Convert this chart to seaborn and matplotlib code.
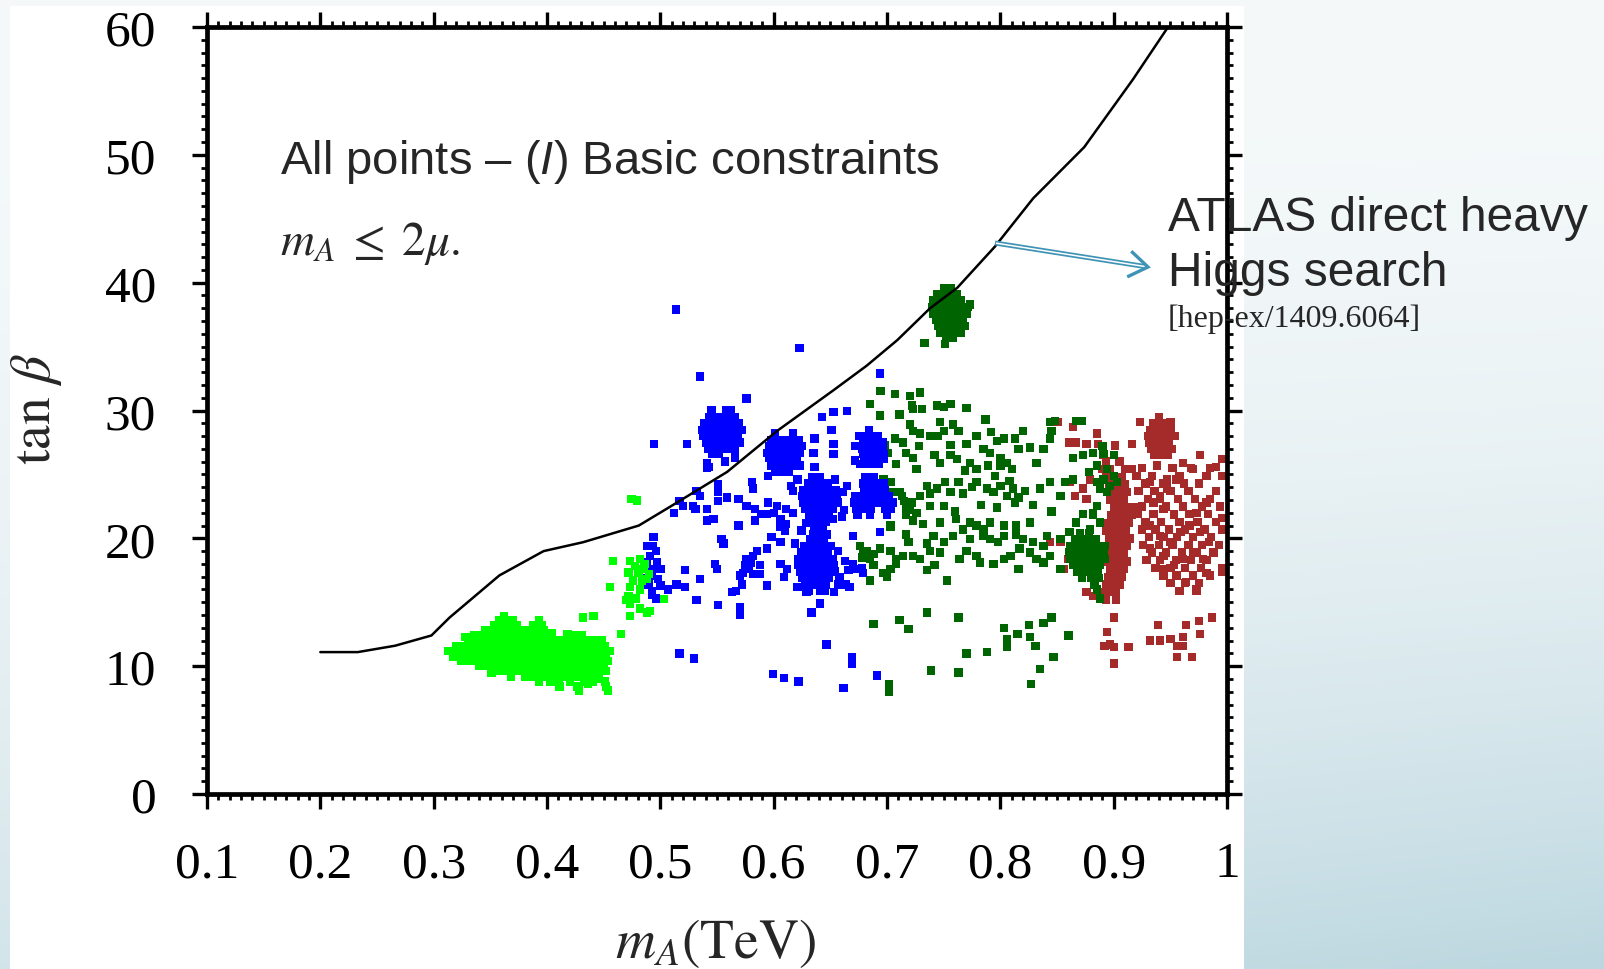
import numpy as np
import pandas as pd
import matplotlib
matplotlib.use("Agg")
import matplotlib.pyplot as plt
from matplotlib.patches import Rectangle
from matplotlib.ticker import MultipleLocator, FixedLocator
import seaborn as sns

sns.set_theme(style="white")
plt.rcParams["font.family"] = ["Liberation Sans", "DejaVu Sans"]
plt.rcParams["mathtext.fontset"] = "stix"
plt.rcParams["mathtext.rm"] = "Liberation Sans"
plt.rcParams["mathtext.it"] = "Liberation Sans:italic"
plt.rcParams["mathtext.bf"] = "Liberation Sans:bold"

# ---------------------------------------------------------------- data
X_TICKS = [0.1, 0.2, 0.3, 0.4, 0.5, 0.6, 0.7, 0.8, 0.9, 1.0]
X_TICK_LABELS = ["0.1", "0.2", "0.3", "0.4", "0.5", "0.6", "0.7", "0.8", "0.9", "1"]
Y_TICKS = [0, 10, 20, 30, 40, 50, 60]
Y_TICK_LABELS = ["0", "10", "20", "30", "40", "50", "60"]

# ATLAS direct heavy Higgs search exclusion line
LIMIT_MA = [0.200, 0.233, 0.266, 0.298, 0.314, 0.338, 0.358, 0.397, 0.432, 0.481,
            0.511, 0.559, 0.603, 0.653, 0.682, 0.709, 0.738, 0.762, 0.795, 0.829,
            0.874, 0.917, 0.948]
LIMIT_TANB = [11.1, 11.1, 11.6, 12.4, 13.8, 15.6, 17.1, 19.0, 19.7, 21.0,
              22.6, 25.2, 28.4, 31.6, 33.5, 35.5, 38.0, 39.6, 42.8, 46.6,
              50.6, 55.9, 60.0]

# light green points: rows of m_A values at a given tan(beta)
LIME_ROWS = {
    13.6: [0.358, 0.364, 0.370, 0.393],
    13.2: [0.353, 0.360, 0.367, 0.373, 0.388, 0.395],
    12.8: [0.345, 0.352, 0.358, 0.365, 0.372, 0.378, 0.384, 0.391, 0.397],
    12.4: [0.336, 0.343, 0.349, 0.356, 0.362, 0.369, 0.375, 0.381, 0.388, 0.394,
           0.401, 0.425, 0.431],
    12.0: [0.330, 0.337, 0.343, 0.350, 0.356, 0.363, 0.369, 0.376, 0.382, 0.389,
           0.395, 0.402, 0.409, 0.415, 0.421, 0.428, 0.434, 0.441, 0.448],
    11.6: [0.320, 0.327, 0.333, 0.340, 0.347, 0.353, 0.360, 0.366, 0.373, 0.380,
           0.386, 0.393, 0.399, 0.406, 0.412, 0.419, 0.425, 0.432, 0.438, 0.445, 0.451],
    11.2: [0.313, 0.320, 0.326, 0.333, 0.339, 0.346, 0.352, 0.359, 0.365, 0.372,
           0.378, 0.385, 0.391, 0.398, 0.404, 0.411, 0.417, 0.424, 0.430, 0.437,
           0.443, 0.450, 0.455],
    10.8: [0.322, 0.329, 0.335, 0.342, 0.348, 0.355, 0.361, 0.368, 0.374, 0.381,
           0.387, 0.394, 0.400, 0.407, 0.413, 0.420, 0.426, 0.433, 0.439, 0.446, 0.452],
    10.4: [0.324, 0.331, 0.338, 0.344, 0.351, 0.357, 0.364, 0.370, 0.377, 0.383,
           0.390, 0.396, 0.403, 0.409, 0.416, 0.422, 0.429, 0.435, 0.442, 0.448, 0.454],
    10.0: [0.340, 0.347, 0.353, 0.360, 0.366, 0.373, 0.379, 0.386, 0.392, 0.399,
           0.405, 0.412, 0.418, 0.425, 0.431, 0.438, 0.444, 0.450],
    9.6: [0.355, 0.362, 0.369, 0.376, 0.383, 0.390, 0.397, 0.404, 0.411, 0.418,
          0.424, 0.431, 0.438, 0.445, 0.452],
    9.2: [0.368, 0.381, 0.388, 0.395, 0.402, 0.409, 0.416, 0.423, 0.430, 0.437, 0.444],
    8.8: [0.393, 0.403, 0.410, 0.420, 0.433, 0.440, 0.451],
    8.4: [0.411, 0.427, 0.452],
    8.1: [0.428, 0.454],
}
LIME_POINTS = [
    (0.4747, 23.1), (0.4797, 22.95), (0.4585, 18.25), (0.4556, 16.2), (0.432, 13.8),
    (0.441, 13.9), (0.465, 12.5), (0.503, 15.25), (0.4733, 18.25), (0.482, 18.4),
    (0.4777, 17.86), (0.4718, 17.34), (0.4806, 17.34), (0.488, 16.8), (0.476, 16.7),
    (0.4733, 16.2), (0.482, 16.0), (0.4718, 15.5), (0.4733, 14.9), (0.482, 14.5),
    (0.488, 14.2), (0.491, 14.3), (0.4733, 13.95), (0.485, 17.6), (0.490, 17.2),
    (0.484, 16.7), (0.4697, 15.2), (0.486, 18.0), (0.478, 15.3),
    (0.317, 10.7), (0.328, 12.3), (0.351, 9.5), (0.362, 13.9), (0.404, 12.6),
    (0.418, 12.5), (0.436, 8.6), (0.446, 9.0),
]

# blue points: dense groups as rows, scattered points as pairs
BLUE_ROWS = {
    30.0: [0.545, 0.558, 0.562],
    29.5: [0.543, 0.549, 0.555, 0.561, 0.566],
    29.0: [0.539, 0.545, 0.551, 0.557, 0.563, 0.569],
    28.5: [0.537, 0.543, 0.549, 0.555, 0.561, 0.567, 0.572, 0.684],
    28.0: [0.538, 0.544, 0.550, 0.556, 0.562, 0.568, 0.680, 0.686, 0.692],
    27.5: [0.540, 0.546, 0.552, 0.558, 0.564, 0.570, 0.679, 0.685, 0.691, 0.696],
    27.0: [0.542, 0.548, 0.554, 0.560, 0.566, 0.678, 0.684, 0.690, 0.696],
    26.6: [0.546, 0.552, 0.566, 0.679, 0.685, 0.691, 0.697],
    26.2: [0.680, 0.686, 0.692, 0.697],
    25.8: [0.681, 0.687, 0.693, 0.676],
    # second group near m_A = 0.61
    28.2: [0.601, 0.617],
    27.7: [0.598, 0.604, 0.610, 0.616, 0.622],
    27.2: [0.596, 0.602, 0.608, 0.614, 0.620, 0.625],
    26.7: [0.594, 0.600, 0.606, 0.612, 0.618, 0.623],
    26.3: [0.596, 0.602, 0.608, 0.614, 0.620],
    25.7: [0.598, 0.604, 0.610, 0.617, 0.623],
    25.2: [0.601, 0.607, 0.613],
    # central group near m_A = 0.64
    24.8: [0.634, 0.641, 0.681, 0.688],
    24.3: [0.630, 0.636, 0.642, 0.648, 0.679, 0.685, 0.691, 0.697],
    23.8: [0.626, 0.632, 0.638, 0.644, 0.650, 0.655, 0.680, 0.686, 0.692, 0.698],
    23.3: [0.625, 0.631, 0.637, 0.643, 0.649, 0.656, 0.672, 0.678, 0.684,
           0.690, 0.696, 0.702],
    22.8: [0.626, 0.632, 0.638, 0.644, 0.650, 0.657, 0.671, 0.677, 0.683,
           0.689, 0.695, 0.701, 0.705],
    22.3: [0.628, 0.634, 0.640, 0.646, 0.652, 0.673, 0.679, 0.686, 0.698, 0.703],
    21.8: [0.631, 0.637, 0.643, 0.649, 0.674, 0.685, 0.700],
    21.3: [0.634, 0.640, 0.646],
    20.8: [0.636, 0.643],
    20.3: [0.635, 0.641, 0.647],
    19.9: [0.632, 0.638, 0.644],
    19.4: [0.627, 0.633, 0.639, 0.645, 0.650],
    18.9: [0.624, 0.630, 0.636, 0.642, 0.648],
    18.4: [0.622, 0.628, 0.634, 0.640, 0.646, 0.652],
    17.9: [0.622, 0.628, 0.634, 0.640, 0.646, 0.653],
    17.4: [0.623, 0.629, 0.635, 0.641, 0.647, 0.654],
    16.9: [0.625, 0.631, 0.637, 0.643, 0.649],
    16.4: [0.628, 0.634, 0.640, 0.646],
    15.9: [0.631, 0.641],
}
BLUE_POINTS = [
    (0.5138, 37.9), (0.6227, 34.9), (0.535, 32.65), (0.576, 30.95), (0.4944, 27.4),
    (0.5238, 27.4), (0.694, 32.9), (0.6527, 29.86), (0.6645, 29.97), (0.6426, 29.5),
    (0.541, 25.9), (0.543, 25.6), (0.557, 26.0), (0.566, 26.3), (0.636, 27.8),
    (0.635, 26.7), (0.6527, 27.4), (0.6527, 26.6), (0.651, 28.5), (0.672, 27.2),
    (0.675, 28.0), (0.672, 26.1), (0.636, 25.6), (0.595, 24.9), (0.623, 25.7),
    (0.6645, 24.1), (0.662, 22.2), (0.660, 21.7), (0.694, 20.5), (0.670, 20.2),
    (0.621, 24.6), (0.654, 24.6), (0.661, 23.6), (0.652, 21.5), (0.629, 21.2),
    (0.657, 19.0), (0.619, 19.6), (0.658, 17.0), (0.621, 16.2),
    # middle band
    (0.5123, 22.0), (0.517, 22.9), (0.520, 22.55), (0.529, 22.55), (0.531, 22.3),
    (0.541, 22.3), (0.541, 21.4), (0.547, 21.5), (0.532, 23.7), (0.535, 23.3),
    (0.551, 24.25), (0.551, 23.6), (0.5586, 23.2), (0.551, 22.9), (0.569, 23.1),
    (0.576, 22.55), (0.5835, 22.3), (0.589, 21.9), (0.5835, 21.4), (0.595, 22.8),
    (0.6027, 22.55), (0.611, 22.3), (0.617, 22.0), (0.606, 21.5), (0.611, 21.1),
    (0.594, 21.9), (0.600, 22.0), (0.5806, 24.4), (0.582, 23.9), (0.615, 24.1),
    (0.617, 23.7), (0.569, 21.0), (0.606, 20.9), (0.610, 20.6), (0.598, 20.1),
    (0.606, 19.7), (0.554, 19.95), (0.5556, 19.6), (0.6247, 20.6), (0.541, 25.55),
    # narrow column near m_A = 0.49
    (0.494, 20.1), (0.488, 19.4), (0.493, 19.4), (0.491, 18.6), (0.497, 18.1),
    (0.488, 18.1), (0.500, 17.6), (0.493, 17.6), (0.4924, 17.1), (0.498, 16.8),
    (0.4895, 16.4), (0.500, 16.3), (0.4924, 15.9), (0.4924, 15.6), (0.507, 16.0),
    (0.496, 19.0), (0.487, 16.9), (0.496, 15.3),
    (0.5144, 16.4), (0.5218, 16.2), (0.5218, 17.5), (0.535, 16.8), (0.532, 15.2),
    (0.551, 14.8), (0.570, 14.6), (0.570, 14.0), (0.548, 18.0), (0.550, 17.6),
    # diagonal group near m_A = 0.58
    (0.563, 15.8), (0.567, 15.9), (0.572, 16.4), (0.570, 17.1), (0.573, 17.3),
    (0.575, 17.9), (0.576, 18.4), (0.582, 18.6), (0.585, 19.0), (0.594, 19.2),
    (0.588, 17.9), (0.582, 17.2), (0.588, 17.2), (0.5796, 18.1), (0.578, 17.6),
    (0.594, 16.3), (0.606, 18.0), (0.612, 17.6), (0.609, 16.95),
    # below the central group
    (0.629, 15.8), (0.6335, 14.2), (0.641, 14.9), (0.645, 15.9), (0.653, 15.8),
    (0.657, 16.4), (0.664, 16.4), (0.667, 16.2), (0.663, 18.25), (0.670, 17.99),
    (0.678, 17.7), (0.679, 17.3), (0.666, 17.5), (0.673, 17.6),
    # low scattered points
    (0.5168, 11.0), (0.5297, 10.6), (0.5997, 9.4), (0.609, 9.05), (0.6218, 8.8),
    (0.6465, 11.7), (0.669, 10.7), (0.669, 10.2), (0.6615, 8.27), (0.691, 9.26),
]

# dark green points
DKGREEN_ROWS = {
    39.6: [0.750, 0.756],
    39.1: [0.744, 0.750, 0.756, 0.762],
    38.6: [0.741, 0.747, 0.753, 0.759, 0.765],
    38.1: [0.740, 0.746, 0.752, 0.758, 0.764, 0.771],
    37.6: [0.741, 0.747, 0.753, 0.759, 0.765, 0.770],
    37.1: [0.743, 0.749, 0.755, 0.761, 0.767],
    36.6: [0.745, 0.751, 0.757, 0.763, 0.768],
    36.1: [0.747, 0.753, 0.759, 0.765],
    35.7: [0.752, 0.758],
    # dense group near m_A = 0.875
    20.4: [0.870, 0.878],
    19.9: [0.866, 0.872, 0.878, 0.884],
    19.4: [0.862, 0.868, 0.874, 0.880, 0.886, 0.892],
    18.9: [0.861, 0.867, 0.873, 0.879, 0.885, 0.891],
    18.4: [0.862, 0.868, 0.874, 0.880, 0.886, 0.892],
    17.9: [0.864, 0.870, 0.876, 0.882, 0.888],
    17.4: [0.868, 0.874, 0.880, 0.886],
    16.9: [0.872, 0.880, 0.887],
    16.4: [0.883],
    16.0: [0.885],
    15.3: [0.888],
}
DKGREEN_POINTS = [
    (0.733, 35.3), (0.751, 35.2), (0.773, 38.3), (0.769, 36.6),
    (0.6944, 31.5), (0.707, 31.3), (0.720, 31.15), (0.729, 31.4), (0.722, 30.4),
    (0.723, 30.1), (0.744, 30.4), (0.750, 30.25), (0.756, 30.5), (0.770, 30.2),
    (0.685, 30.5), (0.694, 29.6), (0.711, 29.7), (0.7306, 30.1),
    (0.720, 28.9), (0.723, 28.4), (0.729, 28.2), (0.747, 29.1), (0.758, 28.9),
    (0.763, 28.4), (0.750, 28.4), (0.738, 28.0), (0.745, 28.0),
    (0.707, 27.8), (0.714, 27.5), (0.698, 27.25), (0.701, 26.7), (0.717, 26.7),
    (0.723, 26.3), (0.742, 26.5), (0.747, 25.9), (0.756, 26.5), (0.762, 26.2),
    (0.770, 27.4), (0.779, 28.0), (0.785, 27.0), (0.773, 25.9), (0.779, 25.4),
    (0.769, 25.3), (0.797, 27.6), (0.803, 27.8), (0.813, 27.8), (0.820, 28.4),
    (0.816, 27.0), (0.791, 26.7), (0.800, 26.3), (0.789, 25.7), (0.800, 25.7),
    (0.806, 25.9), (0.810, 25.4), (0.795, 24.9), (0.832, 25.9), (0.838, 27.0),
    (0.844, 27.8), (0.845, 28.4), (0.844, 29.1), (0.848, 29.2), (0.864, 26.3),
    (0.867, 29.2), (0.872, 29.2),
    (0.697, 24.6), (0.703, 24.4), (0.694, 23.9), (0.697, 23.2), (0.704, 23.6),
    (0.713, 23.3), (0.717, 22.5), (0.722, 22.8), (0.729, 23.3), (0.735, 24.1),
    (0.738, 23.5), (0.744, 23.9), (0.751, 24.4), (0.756, 23.6), (0.763, 24.4),
    (0.767, 23.5), (0.775, 24.0), (0.779, 24.4), (0.788, 23.9), (0.794, 23.6),
    (0.800, 24.1), (0.806, 23.3), (0.811, 23.9), (0.816, 23.2), (0.822, 23.7),
    (0.808, 24.5), (0.813, 22.8), (0.835, 23.9), (0.844, 24.4), (0.853, 23.3),
    (0.857, 24.4), (0.864, 24.6),
    (0.717, 21.8), (0.726, 22.0), (0.738, 22.55), (0.750, 22.55), (0.747, 21.25),
    (0.761, 21.5), (0.767, 20.7), (0.773, 21.25), (0.779, 21.0), (0.785, 20.7),
    (0.791, 21.25), (0.803, 21.0), (0.814, 21.0), (0.826, 21.25), (0.703, 21.0),
    (0.717, 20.3), (0.719, 19.7), (0.741, 20.2), (0.735, 19.6), (0.750, 19.7),
    (0.758, 20.2), (0.773, 19.95), (0.785, 20.2), (0.791, 19.95), (0.798, 19.7),
    (0.803, 20.2), (0.814, 20.3), (0.820, 19.95), (0.829, 19.7), (0.838, 19.4),
    (0.841, 20.2), (0.853, 19.95), (0.861, 20.5), (0.867, 21.25), (0.873, 21.9),
    (0.882, 22.0),
    (0.679, 18.9), (0.685, 18.4), (0.694, 19.2), (0.703, 19.0), (0.708, 18.4),
    (0.714, 18.6), (0.723, 18.6), (0.729, 18.4), (0.738, 19.0), (0.747, 18.9),
    (0.688, 17.9), (0.697, 17.3), (0.703, 17.6), (0.708, 18.0), (0.685, 16.7),
    (0.700, 16.95), (0.735, 17.5), (0.742, 17.9), (0.753, 16.7),
    (0.770, 19.0), (0.779, 18.6), (0.782, 18.1), (0.794, 18.0), (0.803, 18.4),
    (0.809, 18.6), (0.817, 19.2), (0.826, 18.9), (0.832, 18.4), (0.838, 18.1),
    (0.844, 18.6), (0.853, 17.6),
    (0.711, 23.6), (0.715, 22.9), (0.720, 22.2), (0.723, 21.4), (0.703, 20.9),
    (0.676, 19.4), (0.682, 19.0), (0.678, 18.5), (0.688, 18.8),
    (0.728, 27.2), (0.756, 27.3), (0.792, 28.3), (0.826, 27.1), (0.760, 22.1),
    (0.783, 22.6), (0.797, 22.4), (0.829, 22.6), (0.845, 22.1), (0.732, 21.1),
    (0.764, 18.4), (0.816, 17.6), (0.726, 25.4), (0.708, 25.8), (0.787, 29.3),
    # group near m_A = 0.89, tan(beta) = 25
    (0.873, 26.5), (0.882, 26.7), (0.891, 26.6), (0.900, 26.5), (0.885, 25.7),
    (0.894, 25.4), (0.900, 24.9), (0.891, 24.6), (0.885, 24.4), (0.897, 24.1),
    (0.903, 24.4), (0.888, 23.9), (0.894, 23.6), (0.885, 22.55), (0.882, 21.8),
    (0.888, 21.25), (0.879, 20.7), (0.878, 25.2), (0.890, 27.2),
    # sparse low points
    (0.688, 13.3), (0.711, 13.6), (0.719, 12.9), (0.735, 14.2), (0.763, 13.8),
    (0.770, 11.0), (0.788, 11.1), (0.803, 13.0), (0.806, 12.1), (0.806, 11.5),
    (0.815, 12.5), (0.825, 13.2), (0.826, 12.3), (0.831, 11.6), (0.838, 13.4),
    (0.845, 13.8), (0.860, 12.4), (0.847, 10.7), (0.835, 9.8), (0.827, 8.6),
    (0.763, 9.5), (0.739, 9.65), (0.702, 8.6), (0.702, 8.0),
]

# brown points
RED_ROWS = {
    29.5: [0.940],
    29.0: [0.935, 0.942, 0.948],
    28.5: [0.932, 0.938, 0.944, 0.950],
    28.0: [0.930, 0.936, 0.942, 0.948, 0.954],
    27.5: [0.931, 0.937, 0.943, 0.949],
    27.0: [0.933, 0.939, 0.945, 0.951],
    26.5: [0.936, 0.942, 0.948],
    26.0: [0.893, 0.905],
    25.5: [0.925, 0.952, 0.968, 0.985],
    25.4: [0.890, 0.897, 0.910, 0.916],
    24.9: [0.920, 0.934, 0.958, 0.982, 0.996],
    24.8: [0.893, 0.900, 0.907],
    24.3: [0.928, 0.944, 0.962, 0.975],
    24.2: [0.896, 0.903, 0.910],
    23.7: [0.922, 0.936, 0.950, 0.966, 0.990],
    23.6: [0.899, 0.906, 0.912],
    23.1: [0.930, 0.941, 0.957, 0.972, 0.985],
    23.0: [0.897, 0.903, 0.909],
    22.5: [0.925, 0.946, 0.961, 0.978, 0.994],
    22.4: [0.900, 0.906, 0.912, 0.918],
    21.9: [0.921, 0.935, 0.953, 0.967, 0.983],
    21.8: [0.898, 0.904, 0.910, 0.916],
    21.3: [0.928, 0.942, 0.958, 0.974, 0.990],
    21.2: [0.895, 0.901, 0.907, 0.913],
    20.7: [0.925, 0.937, 0.949, 0.963, 0.980, 0.996],
    20.6: [0.893, 0.899, 0.905, 0.911],
    20.1: [0.931, 0.944, 0.956, 0.970, 0.986],
    20.0: [0.896, 0.902, 0.908, 0.914],
    19.5: [0.926, 0.940, 0.952, 0.966, 0.978, 0.993],
    19.4: [0.894, 0.900, 0.906, 0.912],
    18.9: [0.934, 0.946, 0.960, 0.973, 0.988],
    18.8: [0.896, 0.903, 0.909],
    18.3: [0.929, 0.941, 0.955, 0.968, 0.982],
    18.2: [0.893, 0.899, 0.906, 0.912],
    17.7: [0.937, 0.950, 0.963, 0.977, 0.996],
    17.6: [0.897, 0.903, 0.909],
    17.1: [0.944, 0.956, 0.970, 0.985],
    17.0: [0.895, 0.901, 0.907],
    16.5: [0.950, 0.963, 0.975],
    16.4: [0.893, 0.899, 0.905],
    15.9: [0.958, 0.973],
    15.8: [0.890, 0.896, 0.902],
    15.2: [0.893, 0.902],
}
RED_POINTS = [
    (0.851, 29.1), (0.864, 28.7), (0.870, 29.2), (0.861, 27.5), (0.867, 27.5),
    (0.876, 27.4), (0.885, 28.2), (0.886, 27.4), (0.901, 27.25), (0.916, 27.4),
    (0.923, 29.1), (0.950, 29.1), (0.873, 26.5), (0.891, 26.5),
    (0.861, 24.4), (0.866, 23.3), (0.873, 23.9), (0.879, 24.6), (0.876, 23.1),
    (0.932, 24.4), (0.941, 23.3), (0.947, 23.9), (0.955, 24.6), (0.961, 25.9),
    (0.970, 25.4), (0.976, 26.5), (0.982, 24.9), (0.944, 22.3), (0.953, 21.8),
    (0.961, 22.55), (0.973, 22.0), (0.982, 22.8), (0.932, 21.0), (0.941, 20.2),
    (0.950, 19.7), (0.959, 20.5), (0.967, 21.0), (0.976, 20.5), (0.984, 19.7),
    (0.932, 19.2), (0.944, 18.6), (0.953, 17.9), (0.961, 18.4), (0.970, 18.9),
    (0.979, 18.4), (0.944, 17.6), (0.955, 17.1), (0.964, 16.6), (0.973, 16.0),
    (0.982, 17.3), (0.947, 24.6), (0.935, 22.8), (0.938, 25.7), (0.944, 26.5),
    (0.996, 26.2), (0.996, 17.4), (0.990, 25.6), (0.996, 21.6),
    (0.844, 19.7), (0.853, 19.7), (0.860, 18.4), (0.856, 17.6), (0.876, 15.8),
    (0.882, 15.5),
    # sparse low points
    (0.900, 13.8), (0.894, 12.65), (0.897, 11.7), (0.892, 11.6), (0.900, 11.5),
    (0.913, 11.5), (0.900, 10.2), (0.939, 13.2), (0.932, 12.0), (0.941, 12.0),
    (0.950, 12.1), (0.956, 11.6), (0.961, 12.3), (0.961, 11.6), (0.956, 10.7),
    (0.969, 10.7), (0.975, 13.55), (0.976, 12.5), (0.987, 13.8), (0.964, 13.2),
]

GROUP_ORDER = ["brown", "darkgreen", "blue", "lime"]
PALETTE = {"lime": "#00ff00", "blue": "#0000ff",
           "darkgreen": "#006400", "brown": "#a52a2a"}


def collect(rows, points, name):
    pts = [(x, y) for y, xs in rows.items() for x in xs] + list(points)
    return pd.DataFrame({"mA": [p[0] for p in pts],
                         "tanb": [p[1] for p in pts],
                         "group": name})


scan = pd.concat([
    collect(RED_ROWS, RED_POINTS, "brown"),
    collect(DKGREEN_ROWS, DKGREEN_POINTS, "darkgreen"),
    collect(BLUE_ROWS, BLUE_POINTS, "blue"),
    collect(LIME_ROWS, LIME_POINTS, "lime"),
], ignore_index=True)
limit = pd.DataFrame({"mA": LIMIT_MA, "tanb": LIMIT_TANB})

# ---------------------------------------------------------------- figure
W, H = 1604, 970
fig = plt.figure(figsize=(W / 100, H / 100), dpi=100)

# slide background with a soft blue gradient and a white panel
bg = fig.add_axes([0, 0, 1, 1], zorder=0)
bg.set_xlim(0, W)
bg.set_ylim(H, 0)
bg.axis("off")
gx, gy = np.meshgrid(np.linspace(0, 1, 320), np.linspace(0, 1, 200))
t = np.clip(gy ** 2 * (0.6 + 0.4 * gx), 0, 1)[..., None]
c0 = np.array([0.961, 0.976, 0.980])
c1 = np.array([0.737, 0.843, 0.878])
bg.imshow(c0 * (1 - t) + c1 * t, extent=(0, W, H, 0), aspect="auto",
          interpolation="bilinear")
bg.add_patch(Rectangle((10, 7), 1234, H - 7, facecolor="white", edgecolor="none"))

# main scatter panel
L, R, T, B = 207, 1227, 28, 795
ax = fig.add_axes([L / W, (H - B) / H, (R - L) / W, (B - T) / H], zorder=2)
ax.set_facecolor("none")

sns.scatterplot(data=scan, x="mA", y="tanb", hue="group", hue_order=GROUP_ORDER,
                palette=PALETTE, marker="s", s=36, linewidth=0, legend=False,
                ax=ax, zorder=2)
sns.lineplot(data=limit, x="mA", y="tanb", sort=False, estimator=None,
             color="black", lw=1.8, ax=ax, zorder=3)

ax.set_xlim(0.1, 1.0)
ax.set_ylim(0, 60)
ax.set_xlabel("")
ax.set_ylabel("")
ax.xaxis.set_major_locator(FixedLocator(X_TICKS))
ax.yaxis.set_major_locator(FixedLocator(Y_TICKS))
ax.set_xticklabels(X_TICK_LABELS)
ax.set_yticklabels(Y_TICK_LABELS)
ax.xaxis.set_minor_locator(MultipleLocator(0.01))
ax.yaxis.set_minor_locator(MultipleLocator(1))
for sp in ax.spines.values():
    sp.set_visible(True)
    sp.set_linewidth(3.4)
    sp.set_color("black")
ax.tick_params(which="both", direction="out", top=True, right=True,
               bottom=True, left=True, colors="black")
ax.tick_params(which="major", length=10.5, width=2.4, labelsize=37)
ax.tick_params(which="minor", length=4, width=2.0)
ax.tick_params(axis="x", which="major", pad=23)
ax.tick_params(axis="y", which="major", pad=26)
for lab in ax.get_xticklabels() + ax.get_yticklabels():
    lab.set_fontfamily("Liberation Serif")

# annotations in pixel coordinates
ov = fig.add_axes([0, 0, 1, 1], zorder=3)
ov.set_xlim(0, W)
ov.set_ylim(H, 0)
ov.axis("off")
ov.patch.set_alpha(0)

ov.text(716, 944, r"$m_A(\mathrm{TeV})$", ha="center", va="center",
        fontsize=40, math_fontfamily="stix")
ov.text(36, 409, r"$\tan\,\beta$", ha="center", va="center", rotation=90,
        fontsize=40, math_fontfamily="stix")
ov.text(280, 174, r"All points – ($\mathit{I}$) Basic constraints",
        ha="left", va="baseline", fontsize=34, math_fontfamily="custom")
ov.text(280, 255, r"$m_A \;\leq\; 2\mu.$", ha="left", va="baseline",
        fontsize=34, math_fontfamily="stix")
ov.text(1168, 231, "ATLAS direct heavy", ha="left", va="baseline", fontsize=34.5)
ov.text(1168, 286, "Higgs search", ha="left", va="baseline", fontsize=34.5)
ov.text(1168, 327, "[hep-ex/1409.6064]", ha="left", va="baseline",
        fontsize=23, fontfamily="Liberation Serif")

# double-line arrow pointing at the exclusion curve label
arrow_col = "#3f93b5"
a0 = np.array([995.0, 244.0])
a1 = np.array([1148.0, 268.0])
u = (a1 - a0) / np.linalg.norm(a1 - a0)
n = np.array([-u[1], u[0]])
shaft_end = a1 - 3 * u
ov.plot([a0[0], shaft_end[0]], [a0[1], shaft_end[1]], color=arrow_col,
        lw=3.6, solid_capstyle="butt")
ov.plot([a0[0] + u[0], shaft_end[0]], [a0[1] + u[1], shaft_end[1]], color="white",
        lw=1.1, solid_capstyle="butt")
head = np.array([a1 - 19 * u + 13 * n, a1, a1 - 19 * u - 13 * n])
ov.plot(head[:, 0], head[:, 1], color=arrow_col, lw=2.4,
        solid_joinstyle="miter", solid_capstyle="butt")

fig.savefig("out.png", dpi=100)
